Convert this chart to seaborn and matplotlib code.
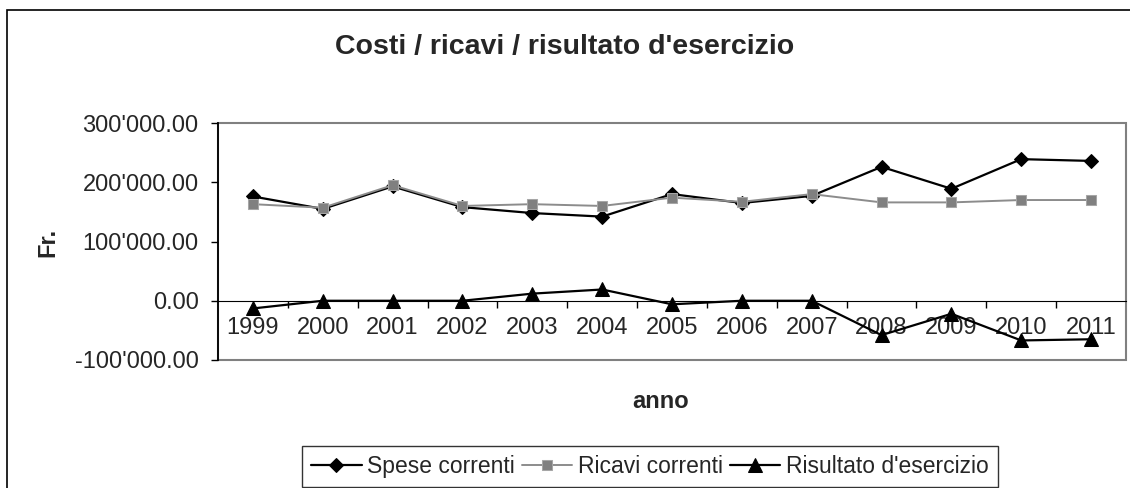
import seaborn as sns
import matplotlib.pyplot as plt
import matplotlib.ticker as mticker
from matplotlib.patches import Rectangle
import pandas as pd

# values
anni = ['1999', '2000', '2001', '2002', '2003', '2004', '2005',
        '2006', '2007', '2008', '2009', '2010', '2011']
spese = [176000, 155000, 193000, 158000, 148000, 142000, 180000,
         165000, 177000, 226000, 189000, 239000, 236000]
ricavi = [163000, 157000, 195000, 160000, 163000, 160000, 174000,
          167000, 180000, 166000, 166000, 170000, 170000]
risultato = [-13000, 0, 0, 0, 12000, 19000, -6000,
             0, 0, -58000, -22000, -67000, -65000]

df = pd.DataFrame({'pos': range(len(anni)), 'Spese correnti': spese,
                   'Ricavi correnti': ricavi, "Risultato d'esercizio": risultato})

sns.set_style('white')
plt.rcParams['font.family'] = ['Liberation Sans', 'DejaVu Sans']

W, H = 1130, 488
fig = plt.figure(figsize=(W / 100, H / 100), dpi=100)
ax = fig.add_axes([218 / W, 1 - 360 / H, (1126 - 218) / W, (360 - 123) / H])

styles = {
    'Spese correnti': dict(color='black', marker='D', markersize=7.5, lw=1.6,
                           mfc='black', mec='black'),
    'Ricavi correnti': dict(color='#8c8c8c', marker='s', markersize=7.5, lw=1.4,
                            mfc='#808080', mec='#a6a6a6'),
    "Risultato d'esercizio": dict(color='black', marker='^', markersize=9.5, lw=1.6,
                                  mfc='black', mec='black'),
}
for name, st in styles.items():
    sns.lineplot(data=df, x='pos', y=name, ax=ax, label=name, zorder=3, **st)

ax.set_xlim(-0.5, len(anni) - 0.5)
ax.set_ylim(-100000, 300000)
ax.set_xlabel('')
ax.set_ylabel('')

# y axis
ax.yaxis.set_major_locator(mticker.MultipleLocator(100000))
ax.yaxis.set_major_formatter(mticker.FuncFormatter(lambda v, p: f"{v:,.2f}".replace(',', "'")))
ax.tick_params(axis='y', left=True, direction='out', length=5, width=1, color='black',
               labelsize=17, pad=9)

# category axis crossing at zero
ax.spines['bottom'].set_position(('data', 0))
ax.spines['bottom'].set_color('black')
ax.spines['left'].set_color('black')
ax.spines['left'].set_linewidth(1.3)
ax.spines['top'].set_visible(False)
ax.spines['right'].set_visible(False)
ax.set_xticks([i + 0.5 for i in range(len(anni) - 1)])
ax.set_xticklabels([])
ax.tick_params(axis='x', which='major', bottom=True, direction='out', length=5,
               width=1, color='black')
ax.set_xticks(list(range(len(anni))), minor=True)
ax.set_xticklabels(anni, minor=True)
ax.tick_params(axis='x', which='minor', bottom=True, length=0, labelsize=17, pad=12)

# grey plot-area frame
ax.add_patch(Rectangle((0, 0), 1, 1, transform=ax.transAxes, fill=False,
                       edgecolor='#808080', lw=1.5, clip_on=False, zorder=0.4))

fig.text(0.5, 1 - 47 / H, "Costi / ricavi / risultato d'esercizio",
         ha='center', va='center', fontsize=20.5, fontweight='bold')
fig.text(48 / W, 1 - 242 / H, 'Fr.', rotation=90, ha='center', va='center',
         fontsize=17, fontweight='bold')
fig.text(661 / W, 1 - 402 / H, 'anno', ha='center', va='center',
         fontsize=17, fontweight='bold')

ax.legend_.remove()
handles, labels = ax.get_legend_handles_labels()
leg = fig.legend(handles, labels, loc='upper center', bbox_to_anchor=(650 / W, 1 - 446 / H),
                 ncol=3, frameon=True, fancybox=False, edgecolor='black',
                 fontsize=16.5, handlelength=2.2, handletextpad=0.25,
                 columnspacing=0.3, borderpad=0.4, borderaxespad=0)
leg.get_frame().set_linewidth(1.0)

# outer chart border (cropped on right and bottom in the reference)
fig.patches.append(Rectangle((7 / W, -0.1), 1.2, 1.1 - 10 / H, transform=fig.transFigure,
                             fill=False, edgecolor='black', lw=1.2))

fig.savefig('out.png', dpi=100)
